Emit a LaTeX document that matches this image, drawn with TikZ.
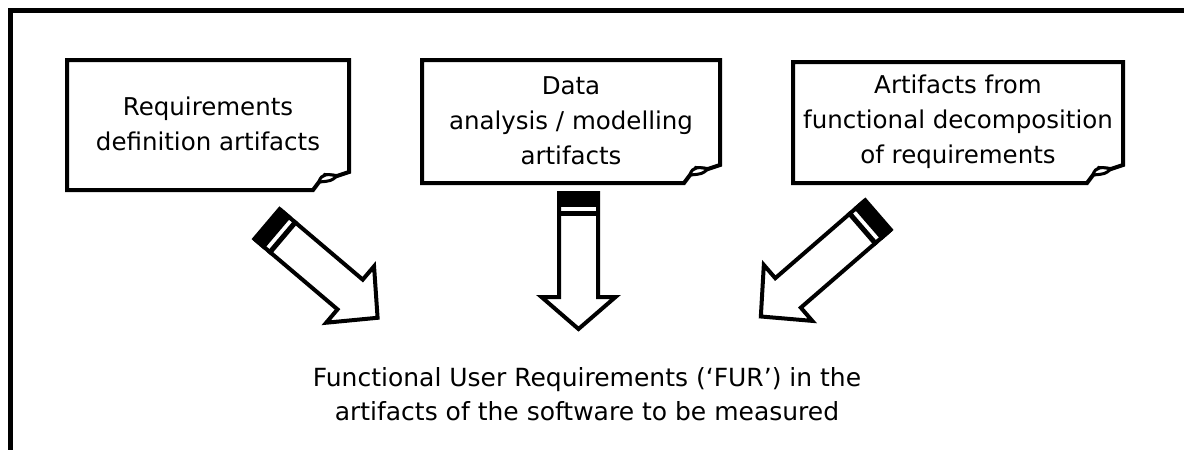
\documentclass[tikz,border=0pt]{standalone}
\usepackage{fontspec}
\setmainfont{DejaVu Sans}
\tikzset{
  frameline/.style={line width=4.3pt},
  boxline/.style={line width=4pt, line join=miter},
  arrline/.style={line width=4pt, line join=miter, fill=white},
  txt/.style={align=center, inner sep=0pt, font=\fontsize{24.5}{35}\selectfont},
  bigtxt/.style={align=center, inner sep=0pt, font=\fontsize{25}{34.5}\selectfont}
}
\newcommand\docbox[4]{%
  \draw[boxline] (#1,#2) -- (#3,#2) -- (#3,#4-18) -- (#3-12,#4-14) -- (#3-24,#4-15)
     -- (#3-30,#4-8) -- (#3-36,#4) -- (#1,#4) -- cycle;
  \draw[boxline, fill=white, line width=3pt] (#3-30,#4-8) .. controls (#3-28,#4-17) and (#3-20,#4-16) .. (#3-12,#4-14)
     .. controls (#3-18,#4-9) .. cycle;
}
\newcommand\blockarr[5]{% tail x, tail y, angle, length, head length
  \begin{scope}[shift={(#1,#2)}, rotate=#3]
    \draw[arrline] (0,-19.5) -- (#4-#5,-19.5) -- (#4-#5,-37) -- (#4,0) -- (#4-#5,37)
       -- (#4-#5,19.5) -- (0,19.5) -- cycle;
    \fill (0,-21.5) rectangle (14,21.5);
    \fill (18,-21.5) rectangle (23,21.5);
  \end{scope}
}
\begin{document}
\begin{tikzpicture}[x=1pt,y=-1pt]
\useasboundingbox (0,0) rectangle (1184,450);
\draw[frameline] (10.5,470) -- (10.5,10.5) -- (1200,10.5);

\docbox{67}{60}{349}{190}
\docbox{422}{60}{720}{183}
\docbox{793}{62}{1123}{183}

\node[txt] (req) at (208,124) {Requirements\\definition artifacts};
\node[txt] (data) at (571,121) {Data\\analysis / modelling\\artifacts};
\node[txt] (func) at (958,122) {Artifacts from\\functional decomposition\\of requirements};
\node[bigtxt] (fur) at (587,394) {Functional User Requirements (‘FUR’) in the\\artifacts of the software to be measured};

\blockarr{267}{224}{-40.3}{145}{36}
\blockarr{578.5}{193}{-90}{136}{32}
\blockarr{878}{215}{-139.1}{155}{36}
\end{tikzpicture}
\end{document}
